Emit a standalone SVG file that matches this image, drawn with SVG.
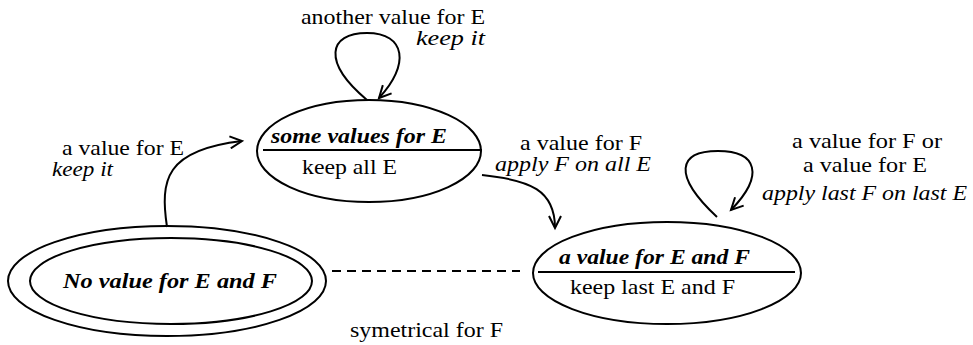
<svg xmlns="http://www.w3.org/2000/svg" width="973" height="345" viewBox="0 0 973 345">
<style>
text{font-family:"Liberation Serif","Times New Roman",serif;font-size:22px;fill:#000}
.i{font-style:italic}
.bi{font-style:italic;font-weight:bold}
.sh{fill:none;stroke:#000;stroke-width:2}
.ln{fill:none;stroke:#000;stroke-width:2}
</style>
<defs>
<marker id="ah" markerWidth="16" markerHeight="14" refX="13" refY="7" orient="auto" markerUnits="userSpaceOnUse">
<path d="M1,1 L13,7 L1,13" fill="none" stroke="#000" stroke-width="2"/>
</marker>
</defs>
<rect width="973" height="345" fill="#fff"/>
<g id="node-some-values">
<ellipse class="sh" cx="369" cy="151" rx="112" ry="51"/>
<line class="ln" x1="263" y1="150" x2="482" y2="150"/>
<text class="bi" x="271" y="143" textLength="176" lengthAdjust="spacingAndGlyphs">some values for E</text>
<text x="302" y="174" textLength="95" lengthAdjust="spacingAndGlyphs">keep all E</text>
</g>
<g id="node-value-EF">
<ellipse class="sh" cx="667" cy="273" rx="134" ry="51"/>
<line class="ln" x1="538" y1="272" x2="795" y2="272"/>
<text class="bi" x="559" y="264" textLength="191" lengthAdjust="spacingAndGlyphs">a value for E and F</text>
<text x="570" y="294" textLength="165" lengthAdjust="spacingAndGlyphs">keep last E and F</text>
</g>
<g id="node-no-value">
<ellipse class="sh" cx="167" cy="281" rx="159" ry="55"/>
<ellipse class="sh" cx="171" cy="281" rx="141" ry="43"/>
<text class="bi" x="63" y="288" textLength="214" lengthAdjust="spacingAndGlyphs">No value for E and F</text>
</g>
<g id="connectors">
<path class="ln" d="M367,100 C322,62 328,33 367,33 C406,33 410,65 379,98" marker-end="url(#ah)"/>
<path class="ln" d="M167,227 C160,180 165,150 242,141" marker-end="url(#ah)"/>
<path class="ln" d="M482,175 C530,180 555,190 555,228" marker-end="url(#ah)"/>
<path class="ln" d="M717,217 C672,175 678,151 718,151 C757,151 765,175 731,210" marker-end="url(#ah)"/>
<line class="ln" x1="332" y1="271" x2="520" y2="271" stroke-dasharray="9,6"/>
</g>
<g id="labels">
<text x="301" y="24" textLength="184" lengthAdjust="spacingAndGlyphs">another value for E</text>
<text class="i" x="416" y="45" textLength="69" lengthAdjust="spacingAndGlyphs">keep it</text>
<text x="62" y="155" textLength="122" lengthAdjust="spacingAndGlyphs">a value for E</text>
<text class="i" x="52" y="176" textLength="61" lengthAdjust="spacingAndGlyphs">keep it</text>
<text x="520" y="150" textLength="122" lengthAdjust="spacingAndGlyphs">a value for F</text>
<text class="i" x="495" y="171" textLength="156" lengthAdjust="spacingAndGlyphs">apply F on all E</text>
<text x="792" y="148" textLength="150" lengthAdjust="spacingAndGlyphs">a value for F or</text>
<text x="803" y="172" textLength="124" lengthAdjust="spacingAndGlyphs">a value for E</text>
<text class="i" x="762" y="200" textLength="205" lengthAdjust="spacingAndGlyphs">apply last F on last E</text>
<text x="350" y="337" textLength="153" lengthAdjust="spacingAndGlyphs">symetrical for F</text>
</g>
</svg>
